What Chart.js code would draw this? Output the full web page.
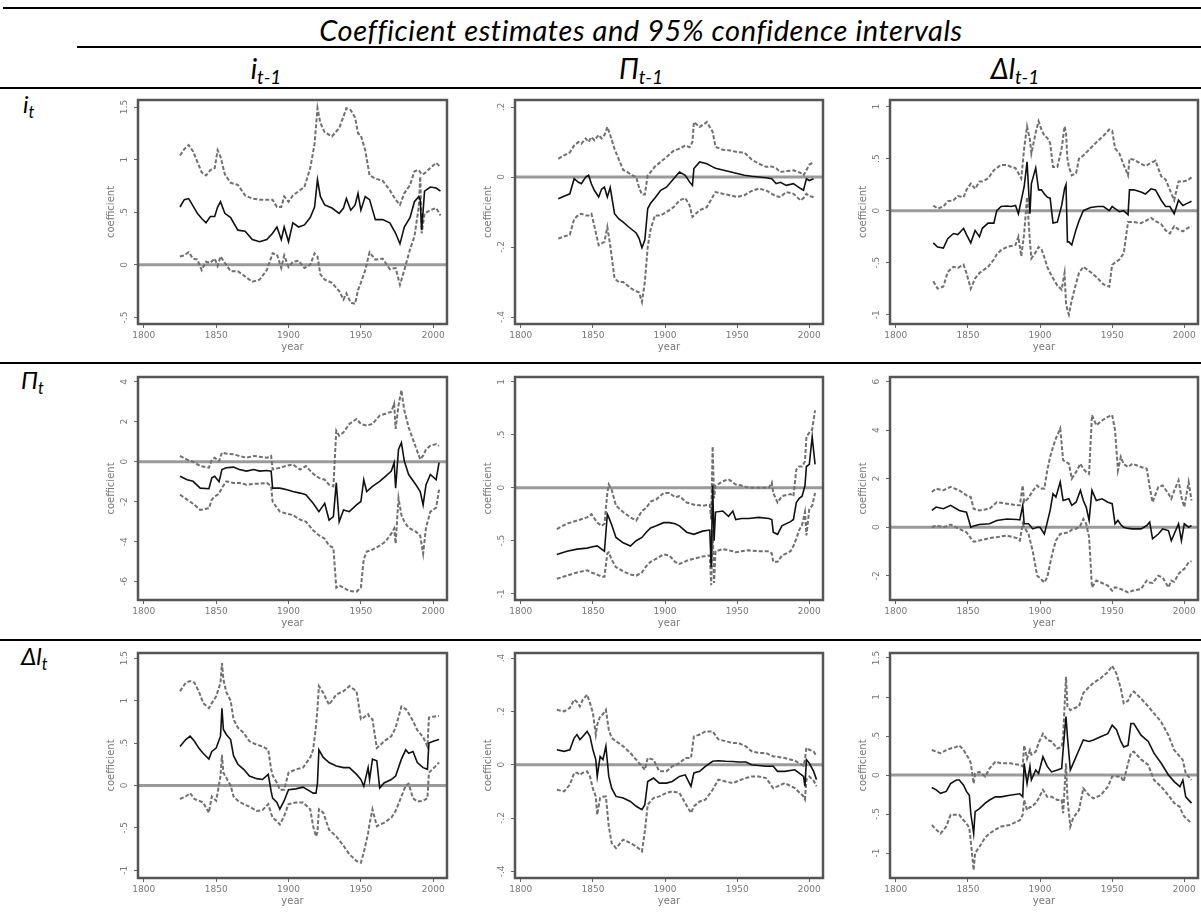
<!DOCTYPE html>
<html>
<head>
<meta charset="utf-8">
<script src="https://cdn.jsdelivr.net/npm/chart.js@4.4.0/dist/chart.umd.min.js"></script>
<style>
  body { margin:0; background:#fff; width:1201px; height:913px; position:relative; overflow:hidden; font-family:Lato, "Liberation Sans", sans-serif; }
  .rule { position:absolute; background:#000; }
  .txt { position:absolute; font-style:italic; color:#000; white-space:nowrap; line-height:1; }
  .txt sub { font-size:0.68em; vertical-align:-0.28em; }
  .cell { position:absolute; }
</style>
</head>
<body>

<div class="rule" style="left:3px; top:7px; width:1198px; height:2px;"></div>
<div class="txt" id="title" style="left:0; width:1282px; text-align:center; top:15px; font-size:29px; letter-spacing:0.6px;">Coefficient estimates and 95% confidence intervals</div>
<div class="rule" style="left:77px; top:46px; width:1124px; height:2px;"></div>

<div class="txt" style="left:166px; width:200px; text-align:center; top:54px; font-size:28px;">i<sub>t-1</sub></div>
<div class="txt" style="left:541px; width:200px; text-align:center; top:54px; font-size:28px;">Π<sub>t-1</sub></div>
<div class="txt" style="left:915px; width:200px; text-align:center; top:54px; font-size:28px;">Δl<sub>t-1</sub></div>
<div class="rule" style="left:0; top:87px; width:1201px; height:2px;"></div>

<div class="txt" style="left:23px; top:92px; font-size:24px;">i<sub>t</sub></div>
<div class="txt" style="left:21px; top:368px; font-size:24px;">Π<sub>t</sub></div>
<div class="txt" style="left:21px; top:644px; font-size:24px;">Δl<sub>t</sub></div>

<div class="rule" style="left:0; top:362px; width:1201px; height:2px;"></div>
<div class="rule" style="left:0; top:639px; width:1201px; height:2px;"></div>

<div id="charts"></div>

<script>
// ---- shared axis ticks ----
const xTicks = [1800, 1850, 1900, 1950, 2000];

// ---- row i_t, column i_{t-1} ----
const yrs1 = [1825,1828,1831,1834,1837,1840,1843,1846,1849,1851,1853,1856,1860,1865,1870,1875,1880,1885,1889,1892,1895,1897,1900,1903,1907,1911,1915,1918,1920,1922,1925,1930,1935,1938,1940,1943,1946,1948,1950,1953,1956,1960,1965,1970,1974,1977,1980,1984,1987,1990,1991,1992,1994,1998,2002,2005];
const est1 = [.55,.62,.63,.56,.49,.44,.40,.46,.46,.55,.60,.49,.45,.33,.32,.24,.22,.24,.30,.36,.24,.36,.22,.40,.36,.38,.45,.55,.81,.65,.57,.54,.49,.54,.63,.52,.57,.68,.52,.65,.62,.43,.43,.40,.30,.20,.36,.45,.60,.65,.62,.33,.70,.74,.73,.70];
const lo1  = [.08,.09,.12,.06,.05,-.05,.03,.02,.06,-.01,.08,.02,-.06,-.06,-.11,-.16,-.14,-.05,.11,.10,-.03,.09,-.02,.03,.04,-.03,.00,.11,.08,-.09,-.14,-.17,-.25,-.33,-.27,-.36,-.37,-.24,-.17,-.05,.12,.05,.06,-.04,-.03,-.19,-.05,.15,.27,.55,.84,.30,.49,.52,.54,.47];
const hi1  = [1.04,1.10,1.14,1.08,.98,.88,.85,.90,.92,1.09,1.03,.86,.78,.76,.66,.63,.62,.62,.62,.55,.55,.65,.60,.66,.70,.74,.92,1.15,1.49,1.35,1.26,1.22,1.30,1.41,1.49,1.47,1.40,1.25,1.23,1.09,.85,.82,.80,.71,.62,.57,.68,.76,.89,.90,.88,.86,.87,.92,.97,.93];
const yTicks1 = [-.5, 0, .5, 1, 1.5];
const yLabels1 = ["-.5", "0", ".5", "1", "1.5"];

// ---- row i_t, column Π_{t-1} ----
const yrs2 = [1826,1830,1834,1837,1840,1842,1845,1847,1849,1851,1854,1856,1858,1860,1862,1865,1868,1871,1874,1877,1880,1882,1884,1886,1888,1890,1893,1897,1901,1906,1910,1914,1917,1919,1920,1924,1929,1933,1935,1940,1945,1950,1955,1960,1965,1970,1974,1977,1980,1984,1989,1994,1996,1998,2000,2003];
const est2 = [-.062,-.055,-.048,-.005,-.015,-.019,.000,.005,-.020,-.038,-.057,-.035,-.029,-.057,-.030,-.105,-.120,-.129,-.140,-.150,-.160,-.175,-.202,-.180,-.090,-.075,-.060,-.038,-.029,-.005,.014,.005,-.014,-.024,.024,.043,.038,.029,.025,.020,.015,.010,.005,.002,.000,-.002,-.005,-.019,-.015,-.024,-.019,-.033,-.038,-.005,-.010,-.005];
const lo2  = [-.176,-.170,-.165,-.120,-.108,-.105,-.110,-.110,-.105,-.140,-.195,-.190,-.185,-.143,-.195,-.290,-.300,-.300,-.310,-.320,-.326,-.330,-.357,-.300,-.200,-.150,-.110,-.110,-.100,-.086,-.067,-.060,-.081,-.114,-.110,-.095,-.086,-.057,-.043,-.048,-.052,-.057,-.052,-.040,-.033,-.038,-.048,-.055,-.057,-.043,-.048,-.067,-.060,-.048,-.055,-.057];
const hi2  = [.052,.062,.070,.090,.100,.095,.110,.100,.114,.105,.120,.110,.120,.143,.120,.080,.050,.020,.014,.005,.000,-.030,-.050,-.050,.005,.014,.030,.043,.057,.075,.081,.090,.085,.100,.157,.143,.157,.129,.086,.078,.076,.071,.070,.050,.038,.029,.030,.025,.014,.017,.019,.012,.005,.020,.035,.043];
const yTicks2 = [-.4, -.2, 0, .2];
const yLabels2 = ["-.4", "-.2", "0", ".2"];

// ---- row i_t, column Δl_{t-1} ----
const yrs3 = [1826,1829,1833,1836,1840,1843,1847,1849,1852,1855,1858,1860,1864,1868,1870,1873,1877,1880,1883,1885,1887,1889,1891,1893,1894,1897,1899,1901,1903,1905,1907,1909,1912,1915,1917,1918,1919,1920,1922,1925,1927,1930,1935,1940,1944,1948,1950,1952,1955,1958,1961,1962,1965,1970,1973,1977,1980,1984,1987,1990,1993,1996,1999,2002,2005];
const est3 = [-.31,-.35,-.36,-.27,-.22,-.23,-.17,-.23,-.31,-.19,-.25,-.17,-.12,-.12,.00,.04,.045,.04,.05,-.03,.10,.23,.47,-.03,.26,.41,.20,.20,.16,.13,.12,-.12,-.11,.05,.21,.25,-.30,-.30,-.33,-.18,-.10,.00,.03,.04,.04,.00,.04,.02,-.01,.00,-.04,.20,.20,.18,.16,.21,.20,.10,.04,.04,-.03,.10,.05,.07,.09];
const lo3  = [-.68,-.75,-.73,-.59,-.54,-.55,-.52,-.60,-.75,-.65,-.60,-.58,-.54,-.47,-.42,-.38,-.35,-.34,-.33,-.25,-.44,-.22,.13,-.30,-.46,-.40,-.35,-.37,-.45,-.54,-.60,-.65,-.72,-.76,-.60,-.89,-.96,-1.00,-.86,-.70,-.60,-.54,-.59,-.65,-.71,-.73,-.52,-.50,-.47,-.41,-.11,-.11,-.11,-.12,-.10,-.07,-.10,-.13,-.19,-.22,-.15,-.18,-.20,-.17,-.15];
const hi3  = [.05,.02,.04,.09,.10,.14,.13,.20,.26,.21,.28,.28,.31,.39,.41,.44,.44,.42,.41,.36,.31,.60,.81,.68,.55,.75,.86,.78,.72,.70,.65,.42,.42,.60,.81,.75,.50,.42,.34,.36,.50,.53,.60,.67,.72,.78,.77,.60,.55,.44,.34,.50,.49,.45,.43,.46,.48,.33,.30,.20,.10,.28,.28,.29,.32];
const yTicks3 = [-1, -.5, 0, .5, 1];
const yLabels3 = ["-1", "-.5", "0", ".5", "1"];

// ---- row Π_t, column i_{t-1} ----
const yrs4 = [1825,1830,1834,1839,1845,1847,1849,1852,1854,1857,1862,1866,1871,1876,1880,1885,1888,1889,1894,1899,1903,1908,1912,1917,1921,1925,1928,1931,1933,1935,1938,1942,1947,1950,1952,1954,1958,1963,1967,1971,1973,1974,1976,1978,1980,1983,1988,1991,1993,1995,1998,2002,2004];
const est4 = [-.73,-.90,-.98,-1.32,-1.35,-.81,-.73,-1.00,-.39,-.30,-.27,-.39,-.47,-.39,-.47,-.44,-.47,-1.32,-1.32,-1.40,-1.49,-1.57,-1.65,-2.08,-2.50,-2.08,-2.92,-2.75,-1.06,-3.00,-2.41,-2.50,-2.16,-1.99,-.90,-1.49,-1.23,-.98,-.73,-.47,-.05,-1.32,.62,.96,.03,-.64,-1.15,-1.49,-2.16,-1.15,-.64,-.90,-.05];
const lo4  = [-1.65,-1.90,-2.10,-2.41,-2.33,-1.90,-1.74,-1.60,-1.30,-.98,-1.06,-1.06,-1.15,-1.11,-1.10,-1.06,-1.23,-2.00,-2.50,-2.60,-2.67,-2.90,-3.00,-3.43,-3.68,-3.85,-4.20,-4.30,-6.30,-6.20,-6.30,-6.47,-6.50,-6.30,-4.87,-4.50,-4.40,-4.20,-4.00,-3.60,-3.34,-4.10,-1.82,-2.67,-3.00,-3.30,-3.50,-3.70,-4.60,-3.30,-2.50,-2.30,-1.40];
const hi4  = [.29,.10,.00,-.22,-.30,.10,.20,.03,.46,.40,.37,.29,.20,.29,.25,.20,.29,-.39,-.30,-.20,-.14,-.39,-.22,-.60,-.81,-.90,-1.15,-1.23,1.55,1.30,1.47,1.89,2.14,1.89,1.85,1.81,1.89,2.31,2.40,2.50,2.90,1.64,2.82,3.58,2.57,1.72,.71,.12,.30,.62,.80,.88,.79];
const yTicks4 = [-6, -4, -2, 0, 2, 4];
const yLabels4 = ["-6", "-4", "-2", "0", "2", "4"];

// ---- row Π_t, column Π_{t-1} ----
const yrs5 = [1825,1832,1839,1846,1849,1853,1856,1858,1860,1861,1863,1866,1871,1876,1880,1884,1887,1890,1894,1899,1903,1907,1910,1915,1920,1926,1931,1932,1933,1934,1935,1940,1944,1947,1949,1953,1958,1965,1972,1974,1975,1978,1981,1987,1989,1991,1993,1995,1997,1998,2000,2002,2004];
const est5 = [-.63,-.60,-.58,-.57,-.56,-.55,-.58,-.60,-.25,-.28,-.35,-.47,-.52,-.55,-.50,-.47,-.42,-.38,-.36,-.33,-.33,-.34,-.36,-.42,-.44,-.41,-.40,-.75,.02,-.50,-.23,-.22,-.27,-.22,-.30,-.29,-.29,-.28,-.29,-.30,-.42,-.44,-.36,-.32,-.30,-.14,-.10,-.08,.02,.20,.22,.48,.22];
const lo5  = [-.86,-.83,-.80,-.78,-.80,-.82,-.84,-.84,-.62,-.61,-.68,-.75,-.79,-.82,-.83,-.80,-.74,-.70,-.67,-.63,-.64,-.70,-.72,-.69,-.67,-.65,-.64,-.92,-.40,-.90,-.60,-.58,-.59,-.60,-.61,-.60,-.59,-.60,-.60,-.62,-.70,-.70,-.64,-.60,-.55,-.48,-.40,-.35,-.23,-.45,-.20,-.17,-.05];
const hi5  = [-.39,-.34,-.31,-.28,-.25,-.33,-.36,-.34,-.05,.03,-.02,-.17,-.23,-.28,-.31,-.22,-.19,-.13,-.11,-.05,-.05,-.09,-.08,-.14,-.16,-.17,-.16,-.30,.39,-.10,.02,.06,.08,.05,.03,.02,.00,.00,.00,.05,-.05,-.14,-.08,-.06,-.08,.17,.20,.20,.25,.48,.52,.55,.73];
const yTicks5 = [-1, -.5, 0, .5, 1];
const yLabels5 = ["-1", "-.5", "0", ".5", "1"];

// ---- row Π_t, column Δl_{t-1} ----
const yrs6 = [1825,1828,1833,1838,1844,1849,1852,1854,1858,1865,1870,1877,1884,1886,1888,1889,1892,1895,1898,1900,1903,1905,1907,1909,1911,1914,1916,1920,1922,1925,1928,1930,1932,1934,1936,1939,1943,1947,1950,1952,1954,1956,1958,1961,1964,1970,1974,1976,1978,1982,1985,1989,1991,1993,1996,1998,2000,2003,2005];
const est6 = [.69,.83,.76,.90,.69,.62,.00,.05,.11,.14,.28,.34,.32,.30,.90,.14,.14,-.07,.00,.00,-.28,.20,.69,1.38,1.24,1.86,1.10,1.17,.90,1.03,1.52,1.10,.83,.28,1.52,1.10,1.17,1.03,.97,.14,.28,.10,.00,-.05,-.07,-.07,.07,.21,-.48,-.28,-.07,-.14,-.55,-.28,.14,-.55,.14,.00,.07];
const lo6  = [.00,.07,.00,.11,-.07,-.21,-.45,-.60,-.55,-.45,-.41,-.34,-.45,-.55,.14,.00,-.28,-1.00,-2.00,-2.10,-2.28,-2.07,-1.50,-.97,-.55,-.28,-.25,-.21,-.10,-.07,.07,.34,.14,-.41,-2.48,-2.20,-2.30,-2.41,-2.62,-2.48,-2.50,-2.55,-2.60,-2.69,-2.62,-2.55,-2.20,-2.28,-2.30,-2.00,-2.07,-2.48,-2.20,-2.25,-1.93,-1.80,-1.72,-1.45,-1.40];
const hi6  = [1.45,1.59,1.52,1.66,1.52,1.31,1.24,.76,.69,.76,1.03,.97,.90,.90,1.72,1.03,1.20,1.50,1.72,1.60,1.59,2.34,2.90,3.30,3.66,4.07,2.76,2.62,2.00,2.28,2.62,2.40,2.28,2.20,4.62,4.20,4.40,4.55,4.62,4.00,2.34,2.90,2.60,2.48,2.62,2.48,2.41,1.66,1.03,1.66,1.72,1.38,1.17,1.50,1.93,1.24,.83,1.86,1.10];
const yTicks6 = [-2, 0, 2, 4, 6];
const yLabels6 = ["-2", "0", "2", "4", "6"];

// ---- row Δl_t, column i_{t-1} ----
const yrs7 = [1825,1829,1832,1835,1838,1841,1845,1847,1850,1853,1854,1855,1857,1860,1862,1865,1869,1873,1878,1882,1886,1888,1889,1892,1894,1897,1900,1905,1910,1915,1917,1919,1920,1921,1924,1928,1933,1938,1942,1947,1950,1952,1955,1956,1958,1961,1963,1966,1971,1974,1978,1981,1983,1986,1989,1993,1996,1997,2000,2004];
const est7 = [.46,.54,.58,.52,.44,.38,.31,.40,.44,.58,.91,.66,.60,.54,.35,.25,.19,.11,.08,.07,.13,-.07,-.15,-.20,-.28,-.18,-.05,-.04,-.02,-.07,-.09,-.09,.03,.42,.33,.27,.23,.21,.21,.13,.07,-.01,.21,.07,.31,.29,-.03,.03,.07,.11,.31,.42,.38,.40,.27,.21,.19,.50,.52,.54];
const lo7  = [-.16,-.13,-.09,-.16,-.18,-.20,-.32,-.13,-.18,.11,.36,.15,.09,.00,-.13,-.18,-.22,-.25,-.30,-.29,-.22,-.33,-.38,-.42,-.46,-.36,-.22,-.20,-.20,-.28,-.48,-.60,-.55,-.28,-.32,-.52,-.60,-.71,-.81,-.89,-.91,-.79,-.56,-.45,-.28,-.48,-.46,-.44,-.38,-.30,-.13,.00,.02,-.15,-.19,-.18,-.15,.15,.20,.27];
const hi7  = [1.11,1.21,1.23,1.21,1.11,.97,.91,.97,1.05,1.21,1.44,1.25,1.10,1.00,.78,.68,.62,.52,.48,.46,.42,.19,.12,.03,-.05,-.05,.15,.19,.21,.33,.42,.70,.90,1.17,1.09,.95,1.07,1.11,1.17,1.11,.78,.80,.84,.80,.78,.44,.47,.52,.58,.68,.93,.90,.85,.76,.65,.57,.46,.80,.81,.82];
const yTicks7 = [-1, -.5, 0, .5, 1, 1.5];
const yLabels7 = ["-1", "-.5", "0", ".5", "1", "1.5"];

// ---- row Δl_t, column Π_{t-1} ----
const yrs8 = [1825,1830,1834,1837,1839,1841,1843,1846,1848,1850,1852,1853,1855,1857,1859,1861,1863,1866,1871,1876,1880,1884,1886,1888,1892,1896,1901,1905,1910,1914,1918,1920,1924,1928,1933,1937,1942,1947,1951,1956,1960,1965,1970,1975,1978,1983,1990,1996,1997,1998,2000,2003,2005];
const est8 = [.056,.050,.056,.100,.113,.094,.106,.125,.106,.056,.019,-.044,.031,.019,.069,-.044,-.088,-.119,-.125,-.138,-.156,-.169,-.150,-.063,-.050,-.069,-.069,-.063,-.044,-.038,-.081,-.031,-.025,-.006,.013,.015,.013,.012,.010,.010,.000,-.003,-.006,-.006,-.025,-.025,-.019,-.044,-.081,.019,.006,-.025,-.056];
const lo8  = [-.094,-.100,-.075,-.031,-.030,-.038,-.030,-.025,-.044,-.090,-.119,-.188,-.125,-.120,-.119,-.231,-.294,-.313,-.281,-.294,-.306,-.325,-.250,-.150,-.125,-.119,-.106,-.100,-.106,-.144,-.181,-.156,-.138,-.131,-.094,-.056,-.063,-.069,-.060,-.050,-.044,-.044,-.050,-.088,-.081,-.069,-.088,-.119,-.130,-.056,-.044,-.060,-.081];
const hi8  = [.206,.200,.213,.244,.235,.219,.244,.263,.231,.194,.113,.150,.181,.190,.206,.131,.100,.088,.069,.044,.019,-.006,-.019,.025,.019,-.025,-.025,-.006,.006,.025,.025,.106,.113,.125,.125,.095,.088,.081,.081,.069,.050,.044,.044,.031,.030,.025,.015,-.004,.020,.063,.056,.050,.031];
const yTicks8 = [-.4, -.2, 0, .2, .4];
const yLabels8 = ["-.4", "-.2", "0", ".2", ".4"];

// ---- row Δl_t, column Δl_{t-1} ----
const yrs9 = [1825,1828,1831,1835,1838,1842,1844,1847,1849,1851,1852,1854,1855,1858,1862,1865,1869,1873,1879,1886,1888,1889,1891,1893,1894,1897,1899,1902,1905,1908,1912,1915,1916,1918,1919,1921,1923,1927,1930,1934,1937,1942,1947,1950,1953,1956,1958,1961,1963,1965,1970,1975,1979,1984,1989,1993,1997,1999,2001,2005];
const est9 = [-.16,-.19,-.235,-.21,-.11,-.064,-.064,-.13,-.21,-.26,-.49,-.75,-.47,-.43,-.36,-.32,-.28,-.28,-.26,-.24,-.28,.15,-.11,.11,-.064,.064,.02,.235,.11,.04,.064,.085,.32,.75,.49,.064,.15,.32,.45,.43,.45,.49,.53,.64,.58,.43,.36,.38,.66,.66,.51,.43,.28,.15,.00,-.085,-.15,-.064,-.28,-.36];
const lo9  = [-.64,-.70,-.75,-.66,-.51,-.51,-.51,-.58,-.62,-.68,-.85,-1.22,-1.00,-.92,-.80,-.75,-.70,-.66,-.64,-.58,-.51,-.32,-.45,-.41,-.41,-.36,-.30,-.19,-.28,-.28,-.32,-.32,-.49,.15,-.30,-.66,-.55,-.45,-.17,-.26,-.30,-.26,-.15,-.02,-.02,-.02,-.085,.15,.28,.30,.20,.13,-.064,-.15,-.26,-.36,-.41,-.51,-.55,-.62];
const hi9  = [.32,.30,.28,.32,.34,.36,.38,.32,.26,.20,.15,-.11,.02,.04,-.02,.085,.17,.15,.15,.13,.11,.38,.21,.32,.26,.30,.41,.53,.45,.43,.34,.36,.49,1.26,.88,.83,.85,.88,1.05,1.13,1.18,1.24,1.32,1.40,1.30,1.11,.92,.95,1.03,1.07,.98,.88,.79,.68,.51,.32,.235,.19,.02,-.064];
const yTicks9 = [-1, -.5, 0, .5, 1, 1.5];
const yLabels9 = ["-1", "-.5", "0", ".5", "1", "1.5"];

// ---- layout of the 3x3 grid (plot boxes in page pixels) ----
const colBox = [[138, 447], [515, 823], [890, 1198]];
const rowBox = [[100, 324], [377, 600], [653, 878]];
const X_MIN = 1796, X_MAX = 2009.5;
const Y_AXIS_W = 45, X_AXIS_H = 29, PAD_TOP = 6, PAD_RIGHT = 3;

const panels = [
  { r:0, c:0, yrs:yrs1, est:est1, lo:lo1, hi:hi1, min:-0.562, max:1.567, ticks:yTicks1, labels:yLabels1 },
  { r:0, c:1, yrs:yrs2, est:est2, lo:lo2, hi:hi2, min:-0.42,  max:0.22,  ticks:yTicks2, labels:yLabels2 },
  { r:0, c:2, yrs:yrs3, est:est3, lo:lo3, hi:hi3, min:-1.09,  max:1.064, ticks:yTicks3, labels:yLabels3 },
  { r:1, c:0, yrs:yrs4, est:est4, lo:lo4, hi:hi4, min:-6.92,  max:4.24,  ticks:yTicks4, labels:yLabels4 },
  { r:1, c:1, yrs:yrs5, est:est5, lo:lo5, hi:hi5, min:-1.06,  max:1.045, ticks:yTicks5, labels:yLabels5 },
  { r:1, c:2, yrs:yrs6, est:est6, lo:lo6, hi:hi6, min:-3.0,   max:6.19,  ticks:yTicks6, labels:yLabels6 },
  { r:2, c:0, yrs:yrs7, est:est7, lo:lo7, hi:hi7, min:-1.09,  max:1.56,  ticks:yTicks7, labels:yLabels7 },
  { r:2, c:1, yrs:yrs8, est:est8, lo:lo8, hi:hi8, min:-0.425, max:0.419, ticks:yTicks8, labels:yLabels8 },
  { r:2, c:2, yrs:yrs9, est:est9, lo:lo9, hi:hi9, min:-1.32,  max:1.564, ticks:yTicks9, labels:yLabels9 },
];

const toPts = (xs, ys) => xs.map((x, i) => ({ x: x, y: ys[i] }));

// zero line under the series, frame and rotated y labels on top
const panelDecor = {
  id: 'panelDecor',
  beforeDatasetsDraw(chart) {
    const { ctx, chartArea: a, scales: { y } } = chart;
    const y0 = y.getPixelForValue(0);
    ctx.save();
    ctx.strokeStyle = '#9a9a9a';
    ctx.lineWidth = 3;
    ctx.beginPath();
    ctx.moveTo(a.left, y0);
    ctx.lineTo(a.right, y0);
    ctx.stroke();
    ctx.restore();
  },
  afterDraw(chart) {
    const { ctx, chartArea: a, scales: { y } } = chart;
    const opts = chart.options.plugins.panelDecor;
    ctx.save();
    ctx.strokeStyle = '#555';
    ctx.lineWidth = 2.5;
    ctx.strokeRect(a.left, a.top, a.right - a.left, a.bottom - a.top);
    ctx.fillStyle = '#777';
    ctx.font = '9px "DejaVu Sans"';
    ctx.textAlign = 'center';
    ctx.textBaseline = 'middle';
    opts.ticks.forEach((v, i) => {
      ctx.save();
      ctx.translate(a.left - 13, y.getPixelForValue(v));
      ctx.rotate(-Math.PI / 2);
      ctx.fillText(opts.labels[i], 0, 0);
      ctx.restore();
    });
    ctx.restore();
  }
};

const holder = document.getElementById('charts');

panels.forEach(p => {
  const [L, R] = colBox[p.c];
  const [T, B] = rowBox[p.r];
  const cw = (R - L) + Y_AXIS_W + PAD_RIGHT;
  const ch = (B - T) + PAD_TOP + X_AXIS_H;
  const cell = document.createElement('div');
  cell.className = 'cell';
  cell.style.left = (L - Y_AXIS_W) + 'px';
  cell.style.top = (T - PAD_TOP) + 'px';
  const cv = document.createElement('canvas');
  cv.width = cw; cv.height = ch;
  cv.style.width = cw + 'px'; cv.style.height = ch + 'px';
  cell.appendChild(cv);
  holder.appendChild(cell);

  new Chart(cv, {
    type: 'line',
    data: {
      datasets: [
        { data: toPts(p.yrs, p.est), borderColor: '#111', borderWidth: 1.6 },
        { data: toPts(p.yrs, p.lo), borderColor: '#707070', borderWidth: 2, borderDash: [4, 2] },
        { data: toPts(p.yrs, p.hi), borderColor: '#707070', borderWidth: 2, borderDash: [4, 2] }
      ]
    },
    options: {
      responsive: false,
      animation: false,
      devicePixelRatio: 1,
      layout: { padding: { left: 0, top: PAD_TOP, right: PAD_RIGHT, bottom: 0 } },
      elements: { point: { radius: 0 }, line: { tension: 0 } },
      plugins: {
        legend: { display: false },
        tooltip: { enabled: false },
        panelDecor: { ticks: p.ticks, labels: p.labels }
      },
      scales: {
        x: {
          type: 'linear', min: X_MIN, max: X_MAX,
          afterBuildTicks: s => { s.ticks = xTicks.map(v => ({ value: v })); },
          afterFit: s => { s.height = X_AXIS_H; },
          grid: { drawOnChartArea: false, tickLength: 4, color: '#666' },
          border: { display: false },
          ticks: { color: '#777', font: { family: 'DejaVu Sans', size: 9 }, padding: 2, maxRotation: 0, callback: v => String(v) },
          title: { display: true, text: 'year', color: '#777', font: { family: 'DejaVu Sans', size: 10 }, padding: { top: 0, bottom: 0 } }
        },
        y: {
          type: 'linear', min: p.min, max: p.max,
          afterBuildTicks: s => { s.ticks = p.ticks.map(v => ({ value: v })); },
          afterFit: s => { s.width = Y_AXIS_W; },
          grid: { drawOnChartArea: false, tickLength: 4, color: '#666' },
          border: { display: false },
          ticks: { display: false },
          title: { display: true, text: 'coefficient', color: '#777', font: { family: 'DejaVu Sans', size: 10 }, padding: { top: 12.5, bottom: 0 } }
        }
      }
    },
    plugins: [panelDecor]
  });
});
</script>
</body>
</html>
